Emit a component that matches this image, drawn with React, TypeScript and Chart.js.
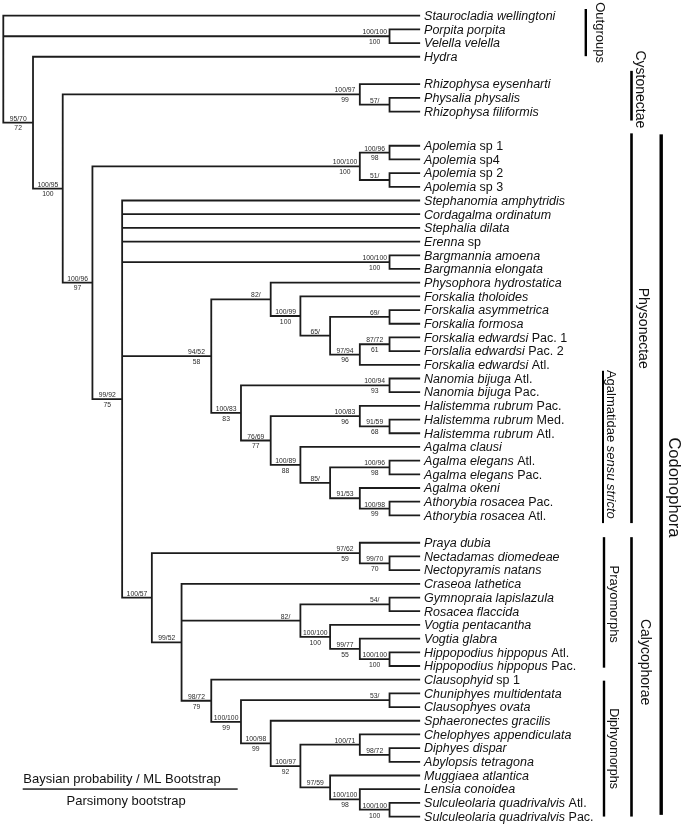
import React, { useEffect, useRef } from 'react';
import { Chart, registerables } from 'chart.js';

Chart.register(...registerables);

// ---------- DATA ----------
const leafItalic: string[] = [
  'Staurocladia wellingtoni', 'Porpita porpita', 'Velella velella', 'Hydra',
  'Rhizophysa eysenharti', 'Physalia physalis', 'Rhizophysa filiformis',
  'Apolemia', 'Apolemia', 'Apolemia', 'Apolemia',
  'Stephanomia amphytridis', 'Cordagalma ordinatum', 'Stephalia dilata', 'Erenna',
  'Bargmannia amoena', 'Bargmannia elongata',
  'Physophora hydrostatica', 'Forskalia tholoides', 'Forskalia asymmetrica', 'Forskalia formosa',
  'Forskalia edwardsi', 'Forslalia edwardsi', 'Forskalia edwardsi',
  'Nanomia bijuga', 'Nanomia bijuga', 'Halistemma rubrum', 'Halistemma rubrum', 'Halistemma rubrum',
  'Agalma clausi', 'Agalma elegans', 'Agalma elegans', 'Agalma okeni',
  'Athorybia rosacea', 'Athorybia rosacea',
  'Praya dubia', 'Nectadamas diomedeae', 'Nectopyramis natans', 'Craseoa lathetica',
  'Gymnopraia lapislazula', 'Rosacea flaccida', 'Vogtia pentacantha', 'Vogtia glabra',
  'Hippopodius hippopus', 'Hippopodius hippopus',
  'Clausophyid', 'Chuniphyes multidentata', 'Clausophyes ovata', 'Sphaeronectes gracilis',
  'Chelophyes appendiculata', 'Diphyes dispar', 'Abylopsis tetragona', 'Muggiaea atlantica',
  'Lensia conoidea', 'Sulculeolaria quadrivalvis', 'Sulculeolaria quadrivalvis',
];
const leafSuffix: string[] = [
  '', '', '', '',
  '', '', '',
  'sp 1', 'sp4', 'sp 2', 'sp 3',
  '', '', '', 'sp',
  '', '',
  '', '', '', '',
  'Pac. 1', 'Pac. 2', 'Atl.',
  'Atl.', 'Pac.', 'Pac.', 'Med.', 'Atl.',
  '', 'Atl.', 'Pac.', '',
  'Pac.', 'Atl.',
  '', '', '', '',
  '', '', '', '',
  'Atl.', 'Pac.',
  'sp 1', '', '', '',
  '', '', '', '',
  '', 'Atl.', 'Pac.',
];
// extra empty rows inserted after these leaf indices
const gapAfterLeaf: number[] = [3, 6, 34];
const gapSize: number[] = [1, 1.5, 1];

// internal nodes: level (0 = root, 14 = tips), children (number = leaf, 'nK' = node K)
const nodeLevel: number[] = [
  0, 13, 1, 2, 12, 13, 3, 12, 13, 13,
  4, 13, 7, 9, 10, 11, 13, 12, 13, 8,
  13, 9, 12, 13, 10, 11, 13, 12, 13, 5,
  12, 13, 6, 10, 13, 11, 12, 13, 7, 8,
  13, 9, 10, 12, 13, 11, 12, 13,
];
const nodeChildren: (number | string)[][] = [
  [0, 'n1', 'n2'], [1, 2], [3, 'n3'], ['n4', 'n6'], [4, 'n5'], [5, 6], ['n7', 'n10'], ['n8', 'n9'], [7, 8], [9, 10],
  [11, 12, 13, 14, 'n11', 'n12', 'n29'], [15, 16], ['n13', 'n19'], [17, 'n14'], [18, 'n15'], ['n16', 'n17'], [19, 20], ['n18', 23], [21, 22], ['n20', 'n21'],
  [24, 25], ['n22', 'n24'], [26, 'n23'], [27, 28], [29, 'n25'], ['n26', 'n27'], [30, 31], [32, 'n28'], [33, 34], ['n30', 'n32'],
  [35, 'n31'], [36, 37], [38, 'n33', 'n38'], ['n34', 'n35'], [39, 40], [41, 'n36'], [42, 'n37'], [43, 44], [45, 'n39'], ['n40', 'n41'],
  [46, 47], [48, 'n42'], ['n43', 'n45'], [49, 'n44'], [50, 51], [52, 'n46'], [53, 'n47'], [54, 55],
];
// Bayesian probability / ML bootstrap
const nodeSupport: string[] = [
  '', '100/100', '95/70', '100/95', '100/97', '57/', '100/96', '100/100', '100/96', '51/',
  '99/92', '100/100', '94/52', '82/', '100/99', '65/', '69/', '97/94', '87/72', '100/83',
  '100/94', '76/69', '100/83', '91/59', '100/89', '85/', '100/96', '91/53', '100/98', '100/57',
  '97/62', '99/70', '99/52', '82/', '54/', '100/100', '99/77', '100/100', '98/72', '100/100',
  '53/', '100/98', '100/97', '100/71', '98/72', '97/59', '100/100', '100/100',
];
// Parsimony bootstrap
const nodeParsimony: string[] = [
  '', '100', '72', '100', '99', '', '97', '100', '98', '',
  '75', '100', '58', '', '100', '', '', '96', '61', '83',
  '93', '77', '96', '68', '88', '', '98', '', '99', '',
  '59', '70', '', '', '', '100', '55', '100', '79', '99',
  '', '99', '92', '', '', '', '98', '100',
];

const groupNames: string[] = ['Outgroups', 'Cystonectae', 'Physonectae', 'Codonophora', 'Agalmatidae', 'Prayomorphs', 'Calycophorae', 'Diphyomorphs'];
const groupNameItalic: string[] = ['', '', '', '', 'sensu stricto', '', '', ''];
const groupFirstLeaf: number[] = [0, 4, 7, 7, 24, 35, 35, 45];
const groupLastLeaf: number[] = [3, 6, 34, 55, 34, 44, 55, 55];

const legendTop = 'Baysian probability / ML Bootstrap';
const legendBottom = 'Parsimony bootstrap';

// ---------- LAYOUT ----------
const W = 686;
const H = 827;
const LEAF_LEVEL = 14;
const X0 = 3.3;
const X_STEP = 29.71;
const Y0 = 15.7;
const Y_STEP = 13.69;
const FAMILY = '"Liberation Sans", Arial, Helvetica, sans-serif';
const LINE_COLOR = '#1c1c1c';
// bar column x, bar width, pad above first leaf, pad below last leaf, text x, text centre shift, font size
const GROUP_STYLE = [
  { bx: 585.8, bw: 2.4, pt: 6.7, pb: -0.6, tx: 599.5, ty: 0, fs: 13 },
  { bx: 631.5, bw: 2.6, pt: 13.3, pb: 9, tx: 640, ty: -6.4, fs: 14 },
  { bx: 631.5, bw: 2.6, pt: 12.4, pb: 7.7, tx: 643, ty: 0, fs: 14 },
  { bx: 661.2, bw: 3.4, pt: 11.4, pb: -1.7, tx: 674, ty: 12.8, fs: 16.5 },
  { bx: 603, bw: 2.0, pt: 7.7, pb: 7.7, tx: 610.5, ty: -2.6, fs: 13 },
  { bx: 604, bw: 2.4, pt: 5.6, pb: 1.7, tx: 613.5, ty: 1.8, fs: 13 },
  { bx: 631.5, bw: 2.6, pt: 5.6, pb: 0, tx: 645, ty: -14.7, fs: 14 },
  { bx: 604, bw: 2.4, pt: -1, pb: 0, tx: 613.5, ty: 0, fs: 12.5 },
];

// ---------- DERIVED ----------
const leafRow: number[] = leafItalic.map((_, i) => {
  let r = i;
  gapAfterLeaf.forEach((g, k) => { if (i > g) r += gapSize[k]; });
  return r;
});

const nodeRow: number[] = [];
function rowOf(c: number | string): number {
  if (typeof c === 'number') return leafRow[c];
  const k = parseInt(c.slice(1), 10);
  if (nodeRow[k] === undefined) {
    const kids = nodeChildren[k];
    nodeRow[k] = (rowOf(kids[0]) + rowOf(kids[kids.length - 1])) / 2;
  }
  return nodeRow[k];
}
function levelOf(c: number | string): number {
  return typeof c === 'number' ? LEAF_LEVEL : nodeLevel[parseInt(c.slice(1), 10)];
}
nodeChildren.forEach((_, k) => rowOf('n' + k));

const treeSegments: { x: number | null; y: number | null }[] = [];
nodeChildren.forEach((kids, k) => {
  const x = nodeLevel[k];
  treeSegments.push({ x, y: rowOf(kids[0]) }, { x, y: rowOf(kids[kids.length - 1]) }, { x: null, y: null });
  kids.forEach((c) => {
    const y = rowOf(c);
    treeSegments.push({ x, y }, { x: levelOf(c), y }, { x: null, y: null });
  });
});

const overlayPlugin = {
  id: 'treeOverlay',
  afterDatasetsDraw(chart: any) {
    const ctx: CanvasRenderingContext2D = chart.ctx;
    const xs = chart.scales.x;
    const ys = chart.scales.y;
    ctx.save();

    // leaf labels
    const leafX = xs.getPixelForValue(LEAF_LEVEL) + 4.8;
    ctx.fillStyle = '#111';
    ctx.textAlign = 'left';
    ctx.textBaseline = 'alphabetic';
    leafItalic.forEach((name, i) => {
      const py = ys.getPixelForValue(leafRow[i]) + 4.3;
      ctx.font = `italic 12.5px ${FAMILY}`;
      ctx.fillText(name, leafX, py);
      if (leafSuffix[i]) {
        const w = ctx.measureText(name + ' ').width;
        ctx.font = `12.5px ${FAMILY}`;
        ctx.fillText(leafSuffix[i], leafX + w, py);
      }
    });

    // support values
    ctx.fillStyle = '#2a2a2a';
    ctx.font = `6.8px ${FAMILY}`;
    ctx.textAlign = 'center';
    nodeSupport.forEach((s, k) => {
      const cx = xs.getPixelForValue(nodeLevel[k] - 0.5);
      const py = ys.getPixelForValue(nodeRow[k]);
      if (s) ctx.fillText(s, cx, py - 2);
      if (nodeParsimony[k]) ctx.fillText(nodeParsimony[k], cx, py + 7.8);
    });

    // group bars + labels
    groupNames.forEach((g, i) => {
      const st = GROUP_STYLE[i];
      const top = ys.getPixelForValue(leafRow[groupFirstLeaf[i]]) - st.pt;
      const bot = ys.getPixelForValue(leafRow[groupLastLeaf[i]]) + st.pb;
      ctx.fillStyle = '#000';
      ctx.fillRect(st.bx - st.bw / 2, top, st.bw, bot - top);
      const cy = (top + bot) / 2 + st.ty;
      ctx.save();
      ctx.translate(st.tx, cy);
      ctx.rotate(Math.PI / 2);
      ctx.textBaseline = 'middle';
      ctx.fillStyle = '#111';
      ctx.font = `${st.fs}px ${FAMILY}`;
      const it = groupNameItalic[i];
      if (!it) {
        ctx.textAlign = 'center';
        ctx.fillText(g, 0, 0);
      } else {
        const w1 = ctx.measureText(g + ' ').width;
        ctx.font = `italic ${st.fs}px ${FAMILY}`;
        const w2 = ctx.measureText(it).width;
        const start = -(w1 + w2) / 2;
        ctx.textAlign = 'left';
        ctx.font = `${st.fs}px ${FAMILY}`;
        ctx.fillText(g, start, 0);
        ctx.font = `italic ${st.fs}px ${FAMILY}`;
        ctx.fillText(it, start + w1, 0);
      }
      ctx.restore();
    });

    // legend
    ctx.fillStyle = '#111';
    ctx.font = `13px ${FAMILY}`;
    ctx.textAlign = 'center';
    ctx.textBaseline = 'alphabetic';
    ctx.fillText(legendTop, 122, 783.3);
    ctx.fillText(legendBottom, 126.2, 805.4);
    ctx.fillStyle = '#000';
    ctx.fillRect(22.7, 788.4, 215, 1.3);

    ctx.restore();
  },
};

export default function App() {
  const ref = useRef<HTMLCanvasElement | null>(null);
  useEffect(() => {
    if (!ref.current) return;
    const chart = new Chart(ref.current, {
      type: 'scatter',
      data: {
        datasets: [
          {
            data: treeSegments as any,
            showLine: true,
            spanGaps: false,
            borderColor: LINE_COLOR,
            borderWidth: 1.8,
            borderCapStyle: 'square',
            pointRadius: 0,
            pointHoverRadius: 0,
            fill: false,
          } as any,
        ],
      },
      options: {
        responsive: false,
        maintainAspectRatio: false,
        animation: false,
        events: [],
        layout: { padding: 0 },
        plugins: { legend: { display: false }, tooltip: { enabled: false } },
        scales: {
          x: { type: 'linear', display: false, min: -X0 / X_STEP, max: (W - X0) / X_STEP },
          y: { type: 'linear', display: false, reverse: true, min: -Y0 / Y_STEP, max: (H - Y0) / Y_STEP },
        },
      },
      plugins: [overlayPlugin],
    });
    return () => chart.destroy();
  }, []);
  return (
    <div style={{ position: 'fixed', left: 0, top: 0, width: W, height: H, background: '#fff' }}>
      <canvas ref={ref} width={W} height={H} style={{ width: W, height: H, display: 'block' }} />
    </div>
  );
}
